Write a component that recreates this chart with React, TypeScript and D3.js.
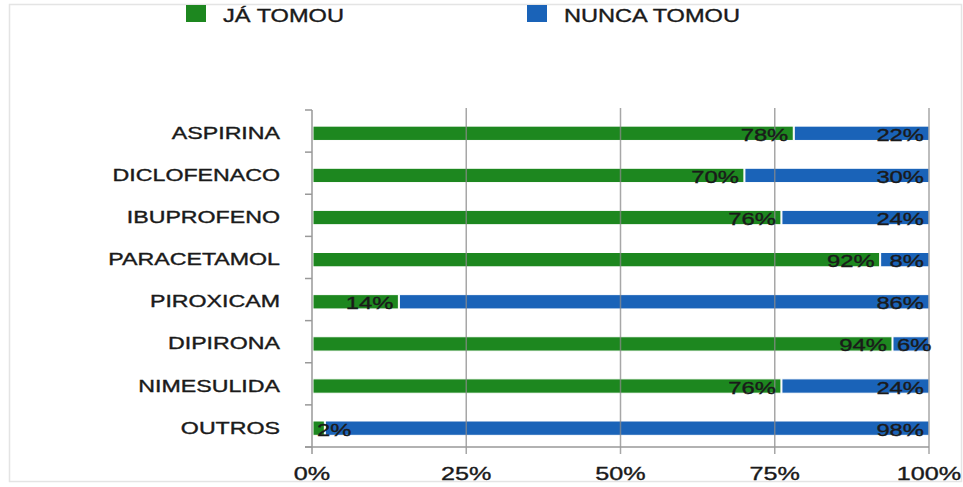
import React from "react";
import * as d3 from "d3";

const categories = ["ASPIRINA", "DICLOFENACO", "IBUPROFENO", "PARACETAMOL", "PIROXICAM", "DIPIRONA", "NIMESULIDA", "OUTROS"];
const jaTomou = [78, 70, 76, 92, 14, 94, 76, 2];
const nuncaTomou = [22, 30, 24, 8, 86, 6, 24, 98];
const seriesNames = ["JÁ TOMOU", "NUNCA TOMOU"];
const seriesKeys = ["ja", "nunca"];
const xTicks = [0, 25, 50, 75, 100];

const COLORS = ["#1d871f", "#1a63b8"];
const FONT = "'Liberation Sans', Arial, sans-serif";
const W = 963;
const H = 487;

let ctx: CanvasRenderingContext2D | null = null;
function measure(text: string, size: number) {
  if (!ctx) ctx = document.createElement("canvas").getContext("2d");
  if (!ctx) return text.length * size * 0.6;
  ctx.font = `${size}px ${FONT}`;
  return ctx.measureText(text).width;
}

function SText({ x, y, sx, size, anchor, children, fill = "#1a1a1a" }: any) {
  return (
    <text
      transform={`translate(${x},${y}) scale(${sx},1)`}
      fontSize={size}
      fontFamily={FONT}
      textAnchor={anchor}
      fill={fill}
      stroke={fill}
      strokeWidth={0.35}
    >
      {children}
    </text>
  );
}

export default function App() {
  const x = d3.scaleLinear().domain([0, 100]).range([312, 929]);
  const y = d3
    .scaleBand()
    .domain(categories)
    .range([110, 447])
    .paddingInner(0.66)
    .paddingOuter(0.33)
    .align(0.58);

  const rows = categories.map((c, i) => ({ cat: c, ja: jaTomou[i], nunca: nuncaTomou[i] }));
  const stack = d3.stack<any>().keys(seriesKeys)(rows);

  const labelSize = 17;
  const labelSx = 1.4;

  return (
    <svg width={W} height={H} style={{ position: "absolute", left: 0, top: 0, background: "#fff" }}>
      <rect x={9.5} y={4.5} width={952} height={477} fill="#fff" stroke="#e4e4e4" strokeWidth={1.5} />

      {/* legend */}
      {seriesNames.map((name, i) => {
        const lx = i === 0 ? 186 : 527;
        return (
          <g key={name}>
            <rect x={lx} y={5} width={20} height={17} fill={COLORS[i]} />
            <SText x={lx + 37} y={22} sx={1.31} size={18} anchor="start">
              {name}
            </SText>
          </g>
        );
      })}

      {/* bars */}
      {stack.map((s, si) => (
        <g key={s.key}>
          {s.map((d: any, i: number) => {
            const x0 = x(d[0]);
            const x1 = x(d[1]);
            const by = y(categories[i])!;
            return (
              <rect
                key={i}
                x={x0 + 1}
                y={by}
                width={Math.max(0, x1 - x0 - 1)}
                height={y.bandwidth()}
                fill={COLORS[si]}
                stroke="#fff"
                strokeWidth={1}
              />
            );
          })}
        </g>
      ))}

      {/* grid lines */}
      {xTicks.slice(1).map((t) => (
        <line key={t} x1={x(t)} x2={x(t)} y1={108} y2={454} stroke="#8a8a8a" strokeOpacity={0.75} strokeWidth={1.5} />
      ))}

      {/* y axis */}
      <line x1={312} x2={312} y1={110} y2={454} stroke="#999" strokeWidth={1.5} />
      <line x1={305} x2={929} y1={447} y2={447} stroke="#999" strokeWidth={1.5} />
      {d3.range(categories.length + 1).map((k) => {
        const ty = 110 + k * y.step();
        return <line key={k} x1={305} x2={312} y1={ty} y2={ty} stroke="#999" strokeWidth={1.5} />;
      })}

      {/* value labels */}
      {stack.map((s) => (
        <g key={"l" + s.key}>
          {s.map((d: any, i: number) => {
            const v = d[1] - d[0];
            const label = `${v}%`;
            const x0 = x(d[0]);
            const x1 = x(d[1]);
            const wText = measure(label, labelSize) * labelSx;
            const cy = y(categories[i])! + y.bandwidth() / 2;
            const fits = wText + 8 <= x1 - x0;
            return fits ? (
              <SText key={i} x={x1 - 5} y={cy + 7.5} sx={labelSx} size={labelSize} anchor="end">
                {label}
              </SText>
            ) : (
              <SText key={i} x={x0 + 5} y={cy + 7.5} sx={labelSx} size={labelSize} anchor="start">
                {label}
              </SText>
            );
          })}
        </g>
      ))}

      {/* category labels */}
      {categories.map((c) => (
        <SText key={c} x={280} y={y(c)! + y.bandwidth() / 2 + 5.5} sx={1.45} size={16} anchor="end">
          {c}
        </SText>
      ))}

      {/* x tick labels */}
      {xTicks.map((t) => (
        <SText key={t} x={x(t)} y={480} sx={1.4} size={18} anchor="middle">
          {`${t}%`}
        </SText>
      ))}
    </svg>
  );
}
